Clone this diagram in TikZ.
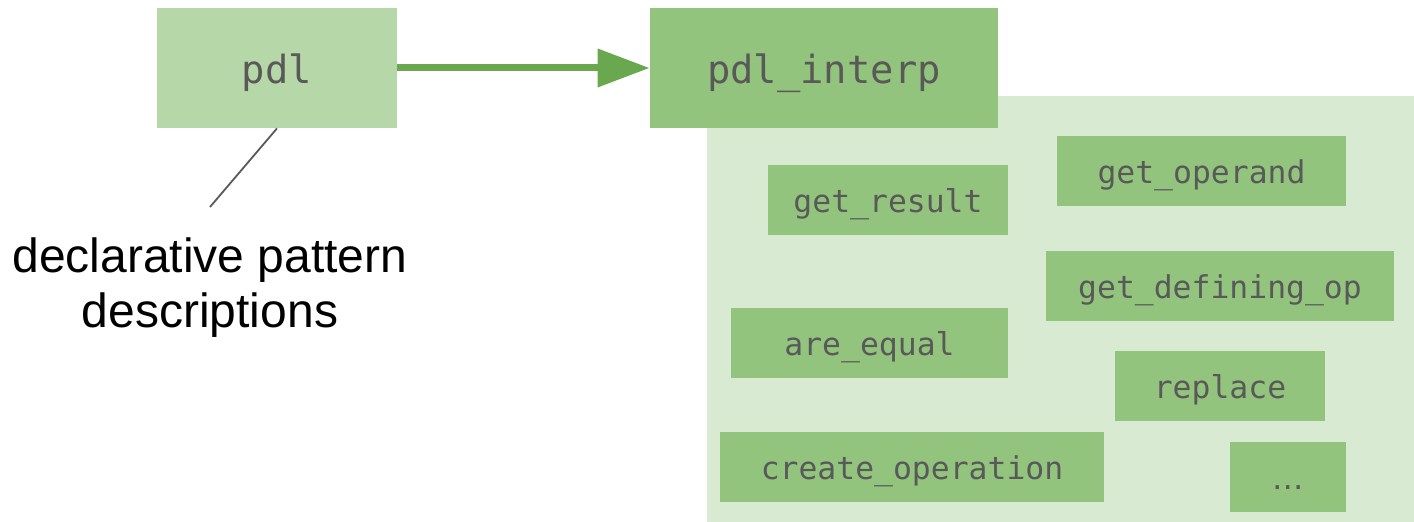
\documentclass[tikz,border=0pt]{standalone}
\usepackage{fontspec}
\setmainfont{Liberation Sans}
\newfontfamily\codefont{DejaVu Sans Mono}
\newfontfamily\dotsfont{DejaVu Sans}
\usetikzlibrary{arrows.meta}

\definecolor{pdlfill}{HTML}{B6D7A8}
\definecolor{opfill}{HTML}{93C47D}
\definecolor{panelfill}{HTML}{D9EAD3}
\definecolor{arrowgreen}{HTML}{6AA84F}
\definecolor{codegray}{HTML}{595959}

\begin{document}
\begin{tikzpicture}[x=0.5pt,y=-0.5pt,
  dialect/.style={inner sep=0pt, text=codegray,
    font=\codefont\fontsize{19.4pt}{22pt}\selectfont,
    minimum height=60pt, text height=20pt, text depth=4pt},
  opbox/.style={fill=opfill, inner sep=0pt, text=codegray,
    font=\codefont\fontsize{15.7pt}{18pt}\selectfont,
    minimum height=35pt, text height=15pt, text depth=2.5pt},
  lowering/.style={line width=3.5pt, draw=arrowgreen,
    -{Triangle[length=26pt,width=18.5pt,fill=arrowgreen]}},
  callout/.style={draw=codegray, line width=0.9pt}]

\useasboundingbox (0,0) rectangle (1414,522);

% panel holding the interpreter operations
\fill[panelfill] (707,96) rectangle (1414,522);

% the two dialects
\node[dialect, fill=pdlfill, minimum width=120pt] (pdl) at (277,68) {pdl};
\node[dialect, fill=opfill, minimum width=174pt] (interp) at (824,68) {pdl\_interp};

\draw[lowering] (pdl.east) -- (interp.west);

% operations of pdl_interp
\node[opbox, minimum width=120pt]   (getresult)  at (888,200)    {get\_result};
\node[opbox, minimum width=144.5pt] (getoperand) at (1201.5,171) {get\_operand};
\node[opbox, minimum width=174pt]   (getdef)     at (1220,286)   {get\_defining\_op};
\node[opbox, minimum width=138.5pt] (areequal)   at (869.5,343)  {are\_equal};
\node[opbox, minimum width=105pt]   (replace)    at (1220,386)   {replace};
\node[opbox, minimum width=192pt]   (createop)   at (912,467)    {create\_operation};
\node[opbox, minimum width=58pt, font=\dotsfont\fontsize{15.7pt}{18pt}\selectfont]
  (more) at (1288,477) {…};

% annotation for pdl
\node[font=\fontsize{24pt}{27.5pt}\selectfont, align=center, inner sep=0pt]
  (desc) at (210,287.5) {declarative pattern\\descriptions};
\coordinate (lead) at (210,207);
\draw[callout] (pdl.south) -- (lead);

\end{tikzpicture}
\end{document}
